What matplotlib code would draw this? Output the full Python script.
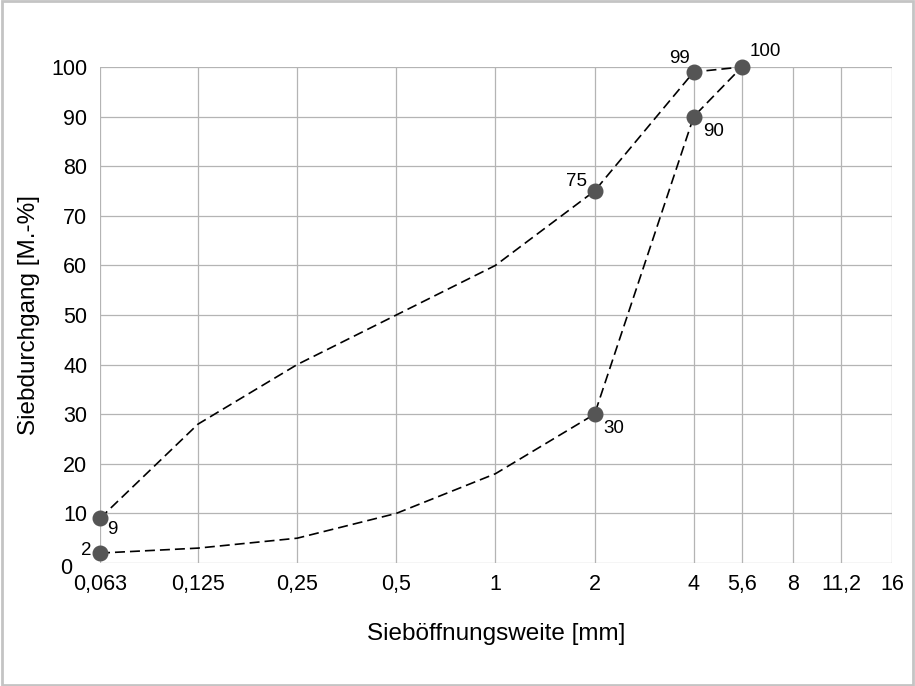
import matplotlib.pyplot as plt
from matplotlib.patches import Rectangle
from matplotlib.transforms import ScaledTranslation

plt.rcParams["font.family"] = ["Liberation Sans", "DejaVu Sans"]

sieve = [0.063, 0.125, 0.25, 0.5, 1, 2, 4, 5.6]
upper = [9, 28, 40, 50, 60, 75, 99, 100]
lower = [2, 3, 5, 10, 18, 30, 90, 100]

x_ticks = [0.063, 0.125, 0.25, 0.5, 1, 2, 4, 5.6, 8, 11.2, 16]
x_labels = ["0,063", "0,125", "0,25", "0,5", "1", "2", "4", "5,6", "8", "11,2", "16"]
y_ticks = list(range(0, 101, 10))

# labelled points: (sieve, value, text offset in points)
marked = [
    (0.063, 9, (9, -8)),
    (0.063, 2, (-10, 2)),
    (2, 75, (-13, 7)),
    (2, 30, (14, -10)),
    (4, 99, (-10, 10)),
    (4, 90, (14, -11)),
    (5.6, 100, (17, 11)),
]

fig = plt.figure(figsize=(9.15, 6.86), dpi=100)
ax = fig.add_axes([100 / 915, 1 - 563 / 686, 792 / 915, 496 / 686])

ax.set_xscale("log", base=2)
ax.plot(sieve, upper, color="black", lw=1.2, ls=(0, (6, 3)))
ax.plot(sieve, lower, color="black", lw=1.2, ls=(0, (6, 3)))

for xv, yv, off in marked:
    ax.plot(xv, yv, "o", color="#555555", ms=10.5, zorder=5, clip_on=False)
    ax.annotate(str(yv), (xv, yv), xytext=off, textcoords="offset points",
                ha="center", va="center", fontsize=13.5)

ax.set_xlim(0.063, 16)
ax.set_ylim(0, 100)
ax.set_xticks(x_ticks)
ax.set_xticklabels(x_labels)
ax.minorticks_off()
ax.set_yticks(y_ticks)
ax.tick_params(length=0, labelsize=15.5)
ax.tick_params(axis="y", pad=9)
ax.tick_params(axis="x", pad=8)
ax.grid(True, color="#b4b4b4", lw=0.9)
ax.set_axisbelow(True)
for s in ax.spines.values():
    s.set_visible(False)

# the "0" sits a bit further left and lower, out of the way of the "2"
zero = ax.get_yticklabels()[0]
zero.set_transform(zero.get_transform() + ScaledTranslation(-0.15, -0.03, fig.dpi_scale_trans))

ax.set_xlabel("Sieböffnungsweite [mm]", fontsize=17.5, labelpad=20)
ax.set_ylabel("Siebdurchgang [M.-%]", fontsize=17.5, labelpad=8)

fig.patches.append(Rectangle((0.002, 0.002), 0.996, 0.996, transform=fig.transFigure,
                             fill=False, edgecolor="#c4c4c4", lw=2))

fig.savefig("out.png", dpi=100)
